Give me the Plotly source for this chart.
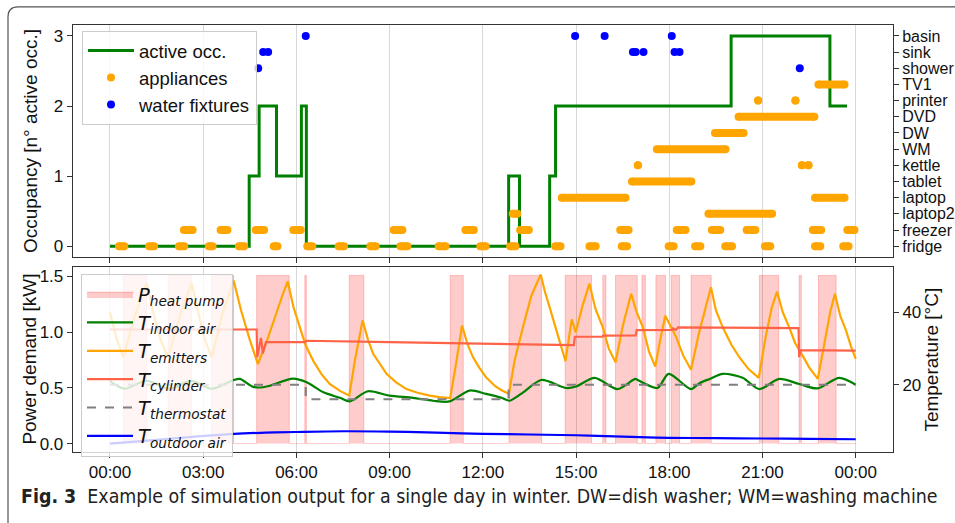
import plotly.graph_objects as go

W, H = 955, 523

# ---------------- data ----------------
hour_ticks = [0, 3, 6, 9, 12, 15, 18, 21, 24]
hour_labels = ["00:00", "03:00", "06:00", "09:00", "12:00", "15:00", "18:00", "21:00", "00:00"]

occ_t = [0, 4.48, 4.80, 5.36, 6.16, 6.32, 12.83, 13.18, 14.15, 14.34, 19.99, 23.17, 23.72]
occ_v = [0, 1, 2, 1, 2, 0, 1, 0, 1, 2, 3, 2, 2]

appliance_names = ["fridge", "freezer", "laptop2", "laptop", "tablet", "kettle", "WM", "DW",
                   "DVD", "printer", "TV1", "shower", "sink", "basin"]

fridge_on = [(0.29, 0.46), (1.26, 1.42), (2.22, 2.39), (3.18, 3.30), (4.15, 4.32), (5.27, 5.39),
             (6.35, 6.51), (7.36, 7.53), (8.38, 8.55), (9.35, 9.57), (10.58, 10.80), (11.92, 12.09),
             (12.88, 13.05), (14.33, 14.50), (15.43, 15.63), (16.47, 16.64), (17.98, 18.14),
             (18.83, 19.00), (19.80, 20.02), (21.08, 21.25), (22.69, 22.86), (23.60, 23.77)]
freezer_on = [(2.38, 2.66), (3.56, 3.78), (4.69, 4.96), (5.90, 6.14), (9.13, 9.41), (11.44, 11.71),
              (13.20, 13.48), (16.42, 16.69), (18.24, 18.52), (19.37, 19.64), (20.49, 20.77),
              (22.62, 22.89), (23.73, 23.96)]
laptop2_on = [(12.96, 13.11), (19.26, 21.31)]
laptop_on = [(14.54, 16.59), (22.69, 23.64)]
tablet_on = [(16.80, 18.71)]
kettle_on = [(16.99, 16.99), (22.27, 22.27), (22.48, 22.48)]
wm_on = [(17.60, 19.81)]
dw_on = [(19.47, 20.39)]
dvd_on = [(20.23, 22.67)]
printer_on = [(20.86, 20.86), (22.06, 22.06)]
tv1_on = [(22.80, 23.64)]

shower_use = [4.77, 22.20]
sink_use = [4.93, 5.09, 16.83, 16.92, 17.17, 18.17, 18.33]
basin_use = [6.30, 14.97, 15.92, 18.08]

hp_on = [(0.43, 1.18), (1.87, 2.63), (3.27, 3.98), (4.72, 5.77), (6.27, 6.32), (7.70, 8.17),
         (10.95, 11.37), (12.84, 13.89), (14.65, 15.50), (15.86, 15.96), (16.27, 16.97),
         (17.12, 17.23), (17.57, 17.88), (18.06, 18.33), (18.70, 19.35), (20.90, 21.52),
         (22.18, 22.25), (22.80, 23.37)]
hp_power_kw = 1.51

indoor_t = [0.0, 0.47, 1.17, 1.92, 2.6, 3.28, 3.98, 4.18, 4.61, 4.93, 5.14, 5.89, 6.33, 6.87, 7.4,
            7.72, 8.3, 9.0, 9.75, 10.4, 10.93, 11.57, 12.1, 12.6, 12.86, 13.3, 13.88, 14.68, 15.0,
            15.6, 16.33, 16.91, 17.0, 17.62, 17.98, 18.7, 18.97, 19.3, 19.72, 20.36, 20.9, 21.54,
            22.18, 22.77, 23.47, 24.0]
indoor_v = [21.0, 18.9, 21.1, 18.9, 21.1, 18.9, 21.3, 21.6, 19.4, 19.3, 19.7, 21.7, 20.7, 17.9, 16.4,
            15.4, 18.2, 17.0, 16.4, 15.6, 15.4, 18.4, 17.5, 16.4, 15.6, 17.9, 21.3, 19.1, 19.5,
            21.9, 18.8, 21.6, 21.2, 19.1, 23.0, 18.8, 20.4, 21.6, 23.0, 21.9, 18.8, 21.6,
            20.2, 19.0, 21.9, 20.0]

emit_t = [0.0, 0.2, 0.43, 0.8, 1.18, 1.4, 1.62, 1.87, 2.25, 2.63, 2.85, 3.05, 3.27, 3.6, 3.98,
          4.22, 4.49, 4.76, 5.04, 5.36, 5.57, 5.72, 5.9, 6.11, 6.3, 6.54, 6.8, 7.07, 7.4, 7.70,
          7.88, 8.13, 8.3, 8.47, 8.7, 8.9, 9.2, 9.54, 9.9, 10.29, 10.6, 10.95, 11.15, 11.33,
          11.5, 11.68, 11.9, 12.11, 12.4, 12.6, 12.84, 13.02, 13.29, 13.56, 13.86, 14.0, 14.15,
          14.3, 14.42, 14.55, 14.66, 14.86, 14.99, 15.2, 15.43, 15.62, 15.86, 16.05, 16.27,
          16.5, 16.77, 16.95, 17.15, 17.35, 17.55, 17.7, 17.87, 18.05, 18.22, 18.45, 18.70,
          18.95, 19.15, 19.34, 19.5, 19.72, 20.0, 20.26, 20.55, 20.88, 21.1, 21.3, 21.47,
          21.65, 21.86, 22.05, 22.29, 22.5, 22.78, 23.0, 23.18, 23.33, 23.5, 23.69, 23.85, 24.0]
emit_v = [40.0, 33.0, 27.5, 39.0, 48.0, 39.5, 32.5, 27.5, 39.0, 48.0, 39.5, 32.5, 27.5, 39.0, 48.7,
          40.4, 32.6, 25.7, 31.8, 40.0, 45.1, 48.4, 41.5, 35.8, 30.8, 26.6, 23.0, 20.2, 18.3, 17.0,
          26.6, 37.7, 32.5, 28.5, 25.5, 23.0, 20.7, 18.8, 17.8, 17.0, 16.6, 16.3, 26.5, 36.3,
          31.3, 27.6, 24.5, 22.0, 19.6, 18.5, 17.5, 26.6, 35.8, 44.5, 50.3, 45.5, 41.3,
          36.8, 33.1, 29.5, 26.5, 38.0, 34.4, 41.5, 47.8, 41.0, 35.8, 30.0, 26.2,
          36.0, 45.0, 40.0, 35.8, 29.0, 25.0, 32.0, 39.0, 36.0, 33.1, 28.0, 24.1,
          34.0, 41.0, 46.8, 40.5, 35.8, 31.0, 27.5, 24.3, 21.9, 33.1, 41.3, 45.6,
          40.0, 35.8, 31.5, 28.0, 24.8, 21.6, 32.0, 40.0, 45.0, 39.0, 34.9, 30.5, 27.1]

cyl_t = [0, 4.72, 4.74, 4.86, 4.92, 5.02, 6.29, 6.31, 9.0, 12.0, 14.93, 14.96, 15.85, 15.87, 16.92,
         16.95, 18.08, 18.12, 18.2, 18.25, 18.28, 22.16, 22.18, 22.22, 24.0]
cyl_v = [35.2, 35.2, 27.6, 32.9, 28.6, 31.7, 31.7, 32.1, 31.7, 31.3, 30.9, 33.2, 33.2, 33.5, 33.6,
         35.0, 35.1, 35.5, 35.1, 35.4, 35.8, 35.6, 27.6, 29.5, 29.4]

thermo_t = [0, 6.3, 12.83, 24]
thermo_v = [20, 16, 20, 20]

outdoor_t = [0, 1, 2, 3, 4, 5, 6, 7.5, 9, 10.5, 12, 13.5, 15, 16.5, 18, 19.5, 21, 22.5, 24]
outdoor_v = [3.8, 4.5, 5.2, 5.9, 6.5, 6.8, 7.0, 7.2, 7.1, 6.8, 6.5, 6.3, 6.1, 5.7, 5.4, 5.3, 5.2, 5.1, 5.0]

# ---------------- helpers ----------------
def px_x(p):
    return p / W


def px_y(p):
    return 1 - p / H


appliance_sets = [fridge_on, freezer_on, laptop2_on, laptop_on, tablet_on, kettle_on, wm_on,
                  dw_on, dvd_on, printer_on, tv1_on]

app_lx, app_ly, app_mx, app_my = [], [], [], []
for level, ivs in enumerate(appliance_sets):
    for s, e in ivs:
        app_lx += [s, e, None]
        app_ly += [level, level, None]
        app_mx += [s, e]
        app_my += [level, level]

water_x = shower_use + sink_use + basin_use
water_y = [11] * len(shower_use) + [12] * len(sink_use) + [13] * len(basin_use)

hp_x, hp_y = [0], [0]
for s, e in hp_on:
    hp_x += [s, e]
    hp_y += [hp_power_kw, 0]
hp_x.append(24)
hp_y.append(0)

ORANGE = "#FFA500"
GREEN = "#008000"
BLUE = "#0000FF"
TOMATO = "#FF6347"
FONT = "Liberation Sans, Arial, sans-serif"

fig = go.Figure()

# top panel
fig.add_trace(go.Scatter(x=occ_t, y=occ_v, mode="lines", line=dict(color=GREEN, width=3, shape="hv"),
                         name="active occ.", xaxis="x", yaxis="y", legend="legend"))
fig.add_trace(go.Scatter(x=app_lx, y=app_ly, mode="lines", line=dict(color=ORANGE, width=8),
                         showlegend=False, hoverinfo="skip", xaxis="x", yaxis="y3"))
fig.add_trace(go.Scatter(x=app_mx, y=app_my, mode="markers", marker=dict(color=ORANGE, size=8),
                         name="appliances", xaxis="x", yaxis="y3", legend="legend"))
fig.add_trace(go.Scatter(x=water_x, y=water_y, mode="markers", marker=dict(color=BLUE, size=8),
                         name="water fixtures", xaxis="x", yaxis="y3", legend="legend"))

# bottom panel
fig.add_trace(go.Scatter(x=hp_x, y=hp_y, mode="lines", line=dict(color="rgba(255,0,0,0.2)", width=1, shape="hv"),
                         fill="tozeroy", fillcolor="rgba(255,0,0,0.2)",
                         name="<i>P</i><sub><i>heat pump</i></sub>", xaxis="x2", yaxis="y2", legend="legend2"))
fig.add_trace(go.Scatter(x=indoor_t, y=indoor_v, mode="lines",
                         line=dict(color=GREEN, width=2.2, shape="spline", smoothing=0.8),
                         name="<i>T</i><sub><i>indoor air</i></sub>", xaxis="x2", yaxis="y4", legend="legend2"))
fig.add_trace(go.Scatter(x=emit_t, y=emit_v, mode="lines", line=dict(color=ORANGE, width=2.2),
                         name="<i>T</i><sub><i>emitters</i></sub>", xaxis="x2", yaxis="y4", legend="legend2"))
fig.add_trace(go.Scatter(x=cyl_t, y=cyl_v, mode="lines", line=dict(color=TOMATO, width=2.2),
                         name="<i>T</i><sub><i>cylinder</i></sub>", xaxis="x2", yaxis="y4", legend="legend2"))
fig.add_trace(go.Scatter(x=thermo_t, y=thermo_v, mode="lines",
                         line=dict(color="gray", width=2.2, dash="dash", shape="hv"),
                         name="<i>T</i><sub><i>thermostat</i></sub>", xaxis="x2", yaxis="y4", legend="legend2"))
fig.add_trace(go.Scatter(x=outdoor_t, y=outdoor_v, mode="lines",
                         line=dict(color=BLUE, width=2.2, shape="spline"),
                         name="<i>T</i><sub><i>outdoor air</i></sub>", xaxis="x2", yaxis="y4", legend="legend2"))

xdom = [px_x(72.7), px_x(893)]
top_dom = [px_y(257.7), px_y(25.5)]
bot_dom = [px_y(453.7), px_y(268)]

axis_common = dict(showline=True, linecolor="#333", linewidth=1, ticks="outside", ticklen=5,
                   tickcolor="#333", zeroline=False)
tick_font = dict(family=FONT, size=17, color="#111")

fig.update_layout(
    width=W, height=H, margin=dict(l=0, r=0, t=0, b=0),
    paper_bgcolor="white", plot_bgcolor="white",
    font=dict(family=FONT, size=17, color="#111"),
    xaxis=dict(domain=xdom, range=[-1.2, 25.2], tickvals=hour_ticks, ticktext=hour_labels,
               showticklabels=False, showgrid=True, gridcolor="#d8d8d8", gridwidth=1, mirror=True,
               anchor="y", tickfont=tick_font, **axis_common),
    xaxis2=dict(domain=xdom, range=[-1.2, 25.2], tickvals=hour_ticks, ticktext=hour_labels,
                showgrid=True, gridcolor="#d8d8d8", gridwidth=1, mirror=True, anchor="y2",
                tickfont=tick_font, **axis_common),
    yaxis=dict(domain=top_dom, range=[-0.15, 3.15], tickvals=[0, 1, 2, 3], showgrid=False,
               mirror=True, anchor="x", tickfont=tick_font, **axis_common),
    yaxis3=dict(overlaying="y", side="right", anchor="x", range=[-0.65, 13.65],
                tickvals=list(range(14)), ticktext=appliance_names, showgrid=False,
                tickfont=dict(family=FONT, size=16, color="#111"), **axis_common),
    yaxis2=dict(domain=bot_dom, range=[-0.0755, 1.5855], tickvals=[0, 0.5, 1.0, 1.5],
                ticktext=["0.0", "0.5", "1.0", "1.5"], showgrid=False, mirror=True, anchor="x2",
                tickfont=tick_font, **axis_common),
    yaxis4=dict(overlaying="y2", side="right", anchor="x2", range=[1.5, 52.4], tickvals=[20, 40],
                showgrid=False, tickfont=tick_font, **axis_common),
    legend=dict(x=px_x(82), y=px_y(31), xanchor="left", yanchor="top",
                bgcolor="rgba(255,255,255,0.8)", bordercolor="#cccccc", borderwidth=1,
                font=dict(family=FONT, size=18.5, color="#111"), itemwidth=46, tracegroupgap=0),
    legend2=dict(x=px_x(81), y=px_y(275), xanchor="left", yanchor="top",
                 bgcolor="rgba(255,255,255,0.8)", bordercolor="#cccccc", borderwidth=1,
                 font=dict(family="DejaVu Sans, sans-serif", size=19.5, color="#111"), itemwidth=46),
    showlegend=True,
)

annos = [
    dict(text="Occupancy [n° active occ.]", x=px_x(30), y=px_y(141.6), textangle=-90),
    dict(text="Power demand [kW]", x=px_x(30), y=px_y(361), textangle=-90),
    dict(text="Temperature [°C]", x=px_x(932), y=px_y(361), textangle=-90),
]
for a in annos:
    fig.add_annotation(xref="paper", yref="paper", xanchor="center", yanchor="middle",
                       showarrow=False, font=dict(family=FONT, size=19, color="#111"), **a)

fig.add_annotation(xref="paper", yref="paper", x=px_x(19), y=px_y(498), xanchor="left", yanchor="middle",
                   showarrow=False,
                   text="<b>Fig. 3</b>  Example of simulation output for a single day in winter. DW=dish washer; WM=washing machine",
                   font=dict(family="Liberation Sans Narrow, DejaVu Sans Condensed, Open Sans, sans-serif",
                             size=19.4, color="#222"))

# outer rounded frame
r = 10
path = (f"M {px_x(8)},{px_y(530)} L {px_x(8)},{px_y(7 + r)} "
        f"Q {px_x(8)},{px_y(7)} {px_x(8 + r)},{px_y(7)} L {px_x(970)},{px_y(7)}")
fig.add_shape(type="path", xref="paper", yref="paper", path=path,
              line=dict(color="#555", width=1.2))

fig.write_html("out.html", config={"displayModeBar": False},
               post_script="document.body.style.margin='0px';")
